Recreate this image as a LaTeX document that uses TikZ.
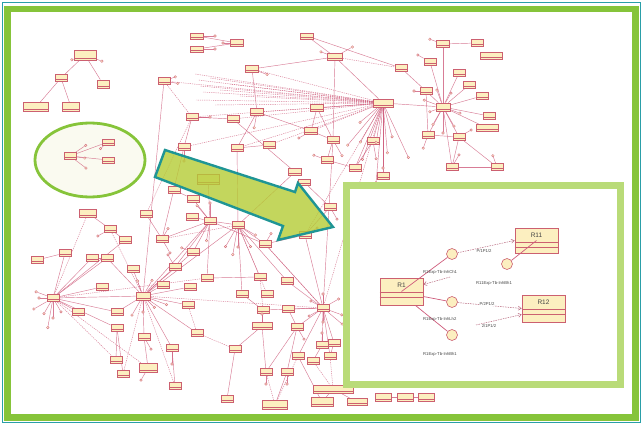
\documentclass[tikz,border=0pt]{standalone}
\usepackage{fontspec}
\setmainfont{Liberation Sans}
\usetikzlibrary{arrows.meta}
\definecolor{framegreen}{HTML}{86C43A}
\definecolor{framegreenlight}{HTML}{B9DB78}
\definecolor{tealline}{HTML}{2A9FA8}
\definecolor{arrowfill}{HTML}{B5CC35}
\definecolor{arrowedge}{HTML}{1F9595}
\definecolor{boxfill}{HTML}{FCEFC0}
\definecolor{boxline}{HTML}{CC6070}
\definecolor{edgec}{HTML}{CF5C7C}
\definecolor{inkc}{HTML}{444444}
\definecolor{ellfill}{HTML}{FAFAF0}
\pgfdeclarelayer{bg}
\pgfsetlayers{bg,main}
\begin{document}
\begin{tikzpicture}[x=1pt,y=-1pt,
  cls/.style={draw=boxline, fill=boxfill, line width=0.8pt, inner sep=0pt, rectangle,
    path picture={\draw[boxline,line width=0.5pt] ([yshift=2.2pt]path picture bounding box.south west) -- ([yshift=2.2pt]path picture bounding box.south east);}},
  dot/.style={circle, draw=edgec, fill=boxfill, line width=0.3pt, inner sep=0pt, minimum size=2.6pt},
  edge/.style={draw=edgec, line width=0.45pt, draw opacity=0.8},
  dedge/.style={edge, dash pattern=on 1.2pt off 1pt},
  bigcls/.style={draw=boxline, fill=boxfill, line width=0.7pt, inner sep=0pt, rectangle, minimum width=43pt},
  ball/.style={circle, draw=boxline, fill=boxfill, line width=0.6pt, inner sep=0pt, minimum size=11pt},
  isolid/.style={draw=edgec, line width=0.7pt},
  idash/.style={draw=edgec!70!gray, line width=0.5pt, dash pattern=on 1.5pt off 1pt, -{Straight Barb[length=3pt,width=4pt]}},
  lbl/.style={font=\fontsize{4.2}{4.5}\selectfont, text=inkc, inner sep=0pt},
  boxlbl/.style={font=\fontsize{6.5}{7}\selectfont, text=inkc, inner sep=0pt}
]
\useasboundingbox (0,0) rectangle (643,425);
\begin{pgfonlayer}{bg}
\fill[white] (0,0) rectangle (643,425);
\fill[ellfill] (90,160) ellipse [x radius=55pt, y radius=37pt];
\end{pgfonlayer}
% boxes of the big graph
\foreach \n/\x/\y/\w/\h in {1/85/55/22/10, 2/61/78/12/7, 3/103/84/12/8, 4/36/107/25/9, 5/71/107/17/9,
 6/108/142/12/6, 7/108/160/12/6, 8/70/156/12/7, 9/197/36/13/6, 10/197/49/13/6, 11/237/43/13/7,
 12/307/36/13/6, 13/335/57/15/7, 14/252/69/13/7, 15/164/81/12/7, 16/401/68/12/7, 17/383/103/20/8,
 18/317/108/13/7, 19/257/112/13/7, 20/233/119/12/7, 21/192/117/12/7, 22/311/131/13/7, 23/333/140/12/7,
 24/373/141/12/7, 25/269/145/12/7, 26/237/148/12/7, 27/184/147/12/7, 28/443/44/13/7, 29/477/43/12/7,
 30/491/56/22/7, 31/430/62/12/7, 32/459/73/12/7, 33/426/91/12/7, 34/469/85/12/7, 35/482/96/12/7,
 36/443/107/14/8, 37/489/116/12/7, 38/487/128/22/7, 39/428/135/12/7, 40/459/137/12/7, 41/452/167/12/7,
 42/497/167/12/7, 43/208/179/22/10, 44/295/172/13/7, 45/327/160/12/7, 46/355/168/12/7, 47/304/182/12/6,
 48/383/176/12/7, 49/174/190/12/7, 50/193/199/12/7, 51/146/214/12/7, 52/88/213/17/8, 53/110/229/12/7,
 54/125/240/12/7, 55/162/239/12/7, 56/192/217/12/7, 57/210/221/12/7, 58/238/225/12/7, 59/65/253/12/7,
 60/37/260/12/7, 61/92/258/12/7, 62/107/258/12/7, 63/133/269/12/7, 64/175/267/12/7, 65/193/252/12/7,
 66/265/244/12/7, 67/305/235/12/7, 68/330/207/12/7, 69/102/287/12/7, 70/163/285/12/7, 71/190/287/12/7,
 72/53/298/12/7, 73/143/296/14/8, 74/207/278/12/7, 75/260/277/12/7, 76/287/281/12/7, 77/242/294/12/7,
 78/267/294/12/7, 79/188/305/12/7, 80/323/308/12/7, 81/288/309/12/7, 82/263/310/12/7, 83/78/312/12/7,
 84/117/312/12/7, 85/117/328/12/7, 86/144/337/12/7, 87/172/348/12/7, 88/116/360/12/7, 89/148/368/18/9,
 90/123/374/12/7, 91/175/386/12/7, 92/197/333/12/7, 93/262/326/20/7, 94/297/327/12/7, 95/235/349/12/7,
 96/322/345/12/7, 97/334/343/12/7, 98/298/356/12/7, 99/313/361/12/7, 100/330/356/12/7, 101/266/372/12/7,
 102/287/372/12/7, 103/333/389/40/8, 104/227/399/12/7, 105/275/405/25/9, 106/322/402/22/9, 107/357/402/20/7,
 108/383/397/16/8, 109/405/397/16/8, 110/426/397/16/8}
  \node[cls, minimum width=\w pt, minimum height=\h pt] (n\n) at (\x,\y) {};
% lollipop end circles
\foreach \i/\n/\ang/\len in {1/17/100/40, 2/17/110/60, 3/17/85/50, 4/17/120/45, 5/17/95/80, 6/17/75/35,
 7/36/200/20, 8/36/250/18, 9/36/300/16, 10/36/60/22, 11/36/120/20, 12/36/160/14, 13/36/20/18,
 14/13/200/15, 15/13/330/20, 16/72/180/14, 17/72/90/20, 18/72/120/18, 19/72/60/16, 20/73/250/16,
 21/73/90/16, 22/73/300/18, 23/73/45/16, 24/57/270/18, 25/57/230/20, 26/58/90/22, 27/58/60/25,
 28/58/120/25, 29/80/270/14, 30/80/330/18, 31/80/90/14, 32/80/210/14, 33/80/150/16, 34/1/20/18,
 35/1/160/14, 36/8/326/19, 37/8/8/15, 38/8/37/20, 39/6/139/10, 40/41/300/14, 41/42/250/12,
 42/40/330/14, 43/28/200/14, 44/33/180/12, 45/31/210/14, 46/86/60/14, 47/87/90/16, 48/89/120/14,
 49/21/0/18, 50/15/10/14, 51/15/340/12, 52/14/20/16, 53/11/180/14, 54/9/0/18, 55/10/0/18,
 56/19/100/16, 57/23/60/18, 58/27/90/14, 59/55/300/12, 60/64/240/14, 61/93/270/12, 62/96/270/12,
 63/94/60/14, 64/102/90/12, 65/101/90/12, 66/66/300/12, 67/67/330/14, 68/68/60/14, 69/45/200/14,
 70/22/150/14, 71/17/140/30, 72/17/65/60, 73/80/20/20, 74/80/40/25, 75/72/150/22, 76/72/200/18,
 77/72/100/30, 78/73/120/22, 79/73/20/25, 80/57/100/20, 81/58/100/30, 82/58/30/20, 83/24/80/18,
 84/39/110/14, 85/36/90/26, 86/17/130/55, 87/17/90/65, 88/65/200/12, 89/53/150/14, 90/55/60/16}
  {\path (n\n) ++(\ang:\len) node[dot] (s\i) {};
   \begin{pgfonlayer}{bg}\draw[edge] (n\n) -- (s\i);\end{pgfonlayer}}
\begin{pgfonlayer}{bg}
\foreach \a/\b in {1/2, 1/3, 2/4, 2/5, 8/6, 8/7, 9/11, 10/11, 12/13, 14/13, 15/73, 13/23, 23/80, 17/36, 17/24,
 17/18, 17/48, 17/46, 28/29, 28/36, 31/36, 32/36, 33/36, 34/36, 35/36, 37/36, 38/36, 39/36, 40/36, 39/40,
 40/41, 40/42, 41/42, 16/33, 14/19, 19/22, 18/22, 20/21, 25/26, 26/58, 27/55, 43/57, 44/58, 45/23, 47/68,
 20/44, 49/50, 52/53, 53/54, 55/57, 56/57, 57/58, 57/65, 57/64, 57/74, 58/66, 58/76, 58/75, 58/77, 61/62,
 60/59, 59/72, 62/73, 63/73, 64/73, 65/73, 69/72, 70/73, 71/73, 72/73, 72/83, 72/84, 72/85, 73/84, 73/86,
 73/87, 73/79, 73/92, 85/88, 85/90, 86/89, 87/91, 80/81, 80/82, 80/76, 80/67, 80/94, 80/96, 80/97, 80/98,
 80/100, 80/66, 93/95, 94/101, 94/102, 93/101, 96/99, 97/100, 102/105, 95/104, 98/106, 103/106, 103/107,
 108/109, 109/110, 21/27, 51/55, 50/57, 54/72, 82/93, 81/94, 67/68, 22/23, 24/46, 45/46, 73/57, 73/58,
 72/61, 72/62, 57/66, 66/67, 74/75, 77/82, 13/17, 12/16, 19/26, 18/23, 36/41, 33/39}
  \draw[edge] (n\a) -- (n\b);
\foreach \a/\b in {17/19, 17/20, 17/21, 17/14, 17/22, 17/26, 17/25, 17/67, 17/80, 13/16, 72/88, 72/89,
 73/90, 73/91, 79/92, 92/95, 21/51, 66/80, 75/82, 58/78, 99/103, 100/103, 101/105, 98/105, 73/80, 72/74,
 72/52, 53/73, 55/58, 15/21, 17/15, 17/27}
  \draw[dedge] (n\a) -- (n\b);
\foreach \i/\x/\y in {1/195/74, 2/198/80, 3/200/86, 4/203/92, 5/196/100, 6/215/105, 7/230/84, 8/240/96,
 9/210/78, 10/220/90}
  {\coordinate (r\i) at (\x,\y); \draw[dedge] (n17) -- (r\i);}
\end{pgfonlayer}
% green ellipse
\draw[framegreen, line width=2.8pt] (90,160) ellipse [x radius=55pt, y radius=37pt];
% big arrow
\draw[arrowedge, line width=2.4pt, line join=miter, fill=arrowfill, fill opacity=0.8]
  (165,150) -- (295,192) -- (298,183) -- (333,227) -- (278,240) -- (283,226) -- (155,177) -- cycle;
% inset
\fill[white] (343,182) rectangle (624,388);
\draw[framegreenlight, line width=7pt] (346.5,185.5) rectangle (620.5,384.5);
\node[bigcls, minimum height=27pt] (R1) at (401.5,291.5) {};
\node[bigcls, minimum height=25pt] (R11) at (536.5,240.5) {};
\node[bigcls, minimum height=27pt] (R12) at (543.5,308.5) {};
\foreach \b in {R1,R11,R12}
  {\draw[boxline, line width=0.5pt] ([yshift=-15pt]\b.north west) -- ([yshift=-15pt]\b.north east);
   \draw[boxline, line width=0.5pt] ([yshift=-20pt]\b.north west) -- ([yshift=-20pt]\b.north east);}
\node[boxlbl] (t1) at ([yshift=-7.5pt]R1.north) {R1};
\node[boxlbl] (t11) at ([yshift=-7.5pt]R11.north) {R11};
\node[boxlbl] (t12) at ([yshift=-7.5pt]R12.north) {R12};
\node[ball] (c1) at (452,254) {};
\node[ball] (c2) at (507,264) {};
\node[ball] (c3) at (452,302) {};
\node[ball] (c4) at (452,335) {};
\draw[isolid] (R1.center) -- (c1);
\draw[isolid] (R11.center) -- (c2);
\draw[isolid] ([yshift=-5pt]R1.east) -- (c3);
\draw[isolid] ([xshift=-8pt]R1.south east) -- (c4);
\draw[idash] (c1) -- (R11.west);
\draw[idash] (c3) -- (R12.west);
\coordinate (e1) at (450,277);
\coordinate (e2) at (476,325);
\draw[idash] (e1) -- ([yshift=7pt]R1.east);
\draw[idash] (e2) -- ([yshift=-6pt]R12.west);
\node[lbl, fill=white] (l1) at (484,251) {P/1P1/2};
\node[lbl, anchor=west] (l2) at (423,272) {R1Exp-Tb-InhCh1};
\node[lbl, anchor=west] (l3) at (476,283) {R11Exp-Tb-InhBh1};
\node[lbl, fill=white] (l4) at (487,304) {P/2P1/2};
\node[lbl, anchor=west] (l5) at (423,319) {R1Exp-Tb-InhLh2};
\node[lbl, fill=white] (l6) at (489,326) {2/1P1/2};
\node[lbl, anchor=west] (l7) at (423,354) {R1Exp-Tb-InhBh1};
% outer frame
\draw[tealline, line width=1.2pt] (2.5,2.5) rectangle (640.5,422.5);
\draw[framegreen, line width=6.5pt] (7.5,9) rectangle (635.5,417.5);
\end{tikzpicture}
\end{document}
